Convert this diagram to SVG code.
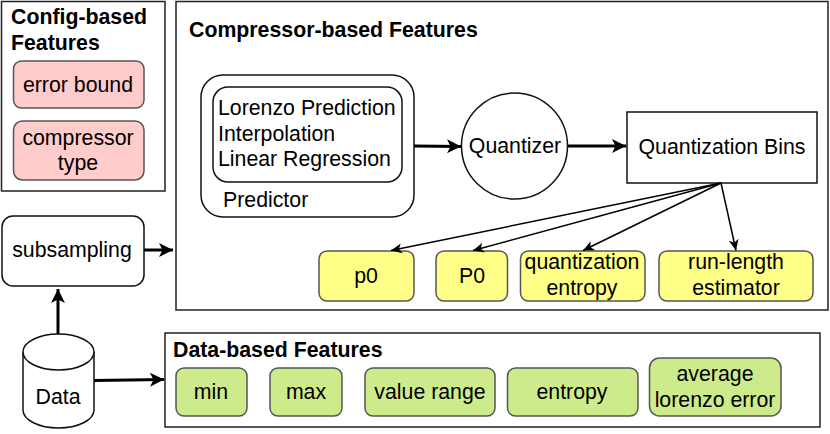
<svg xmlns="http://www.w3.org/2000/svg" width="830" height="434" viewBox="0 0 830 434">
<style>
text{font-family:"Liberation Sans",Arial,sans-serif;font-size:21.3px;fill:#000;text-anchor:middle}
.t{font-weight:bold;text-anchor:start}
.l{text-anchor:start}
.b{fill:#fff;stroke:#222;stroke-width:1.5}
.n{fill:#fff;stroke:#111;stroke-width:1.5}
.r{fill:#ffcccc;stroke:#555;stroke-width:1.5}
.y{fill:#ffff88;stroke:#555;stroke-width:1.5}
.g{fill:#cdeb8b;stroke:#555;stroke-width:1.5}
.c{fill:none;stroke:#000;stroke-width:3}
.d{fill:none;stroke:#000;stroke-width:1.5}
</style>
<defs>
<marker id="a" markerUnits="userSpaceOnUse" markerWidth="16" markerHeight="16" refX="14" refY="7" orient="auto" viewBox="0 0 16 14"><path d="M0 0L14 7L0 14L3.5 7Z" fill="#000"/></marker>
<marker id="s" markerUnits="userSpaceOnUse" markerWidth="12" markerHeight="12" refX="11" refY="5" orient="auto" viewBox="0 0 12 10"><path d="M0 0L11 5L0 10L3 5Z" fill="#000"/></marker>
</defs>
<g id="config">
<rect class="b" x="1.5" y="1.5" width="163.5" height="189.5"/>
<text class="t" x="11" y="24">Config-based</text>
<text class="t" x="11" y="50">Features</text>
<g id="error-bound"><rect class="r" x="13.5" y="61" width="130.5" height="47" rx="8"/><text x="78" y="92">error bound</text></g>
<g id="compressor-type"><rect class="r" x="13.5" y="121" width="130.5" height="59" rx="9"/><text x="78" y="145">compressor</text><text x="78" y="170">type</text></g>
</g>
<g id="compressor">
<rect class="b" x="176" y="1.5" width="652" height="308.5"/>
<text class="t" x="189" y="37">Compressor-based Features</text>
</g>
<g id="predictor">
<rect class="n" x="201" y="75" width="213" height="142" rx="22"/>
<text class="l" x="223" y="207">Predictor</text>
</g>
<g id="methods">
<rect class="n" x="213" y="87" width="189" height="95" rx="15"/>
<text class="l" x="218" y="115">Lorenzo Prediction</text>
<text class="l" x="218" y="141">Interpolation</text>
<text class="l" x="218" y="166">Linear Regression</text>
</g>
<g id="quantizer"><circle class="n" cx="514.500" cy="146" r="53"/><text x="515" y="153">Quantizer</text></g>
<g id="bins"><rect class="n" x="627" y="112" width="190" height="71"/><text x="722" y="154">Quantization Bins</text></g>
<g id="p0"><rect class="y" x="319" y="251" width="95" height="50" rx="8"/><text x="366" y="283">p0</text></g>
<g id="P0"><rect class="y" x="436" y="251" width="71.500" height="50" rx="8"/><text x="472" y="283">P0</text></g>
<g id="quantization-entropy"><rect class="y" x="520.500" y="251" width="124.500" height="50" rx="8"/><text x="582" y="269">quantization</text><text x="582" y="295">entropy</text></g>
<g id="run-length"><rect class="y" x="659" y="251" width="154" height="50" rx="8"/><text x="736" y="269">run-length</text><text x="736" y="295">estimator</text></g>
<g id="subsampling"><rect class="n" x="2" y="216" width="142" height="70" rx="11"/><text x="72" y="257">subsampling</text></g>
<g id="data">
<path class="n" d="M23 352C23 342 39 334 58.500 334S94 342 94 352V410C94 420 78 428 58.500 428S23 420 23 410Z"/>
<path class="n" d="M23 352C23 362 39 370 58.500 370S94 362 94 352" fill="none"/>
<text x="58" y="404">Data</text>
</g>
<g id="data-features">
<rect class="b" x="165" y="333" width="655" height="94"/>
<text class="t" x="173" y="357">Data-based Features</text>
<g id="min"><rect class="g" x="176" y="368" width="71" height="48" rx="8"/><text x="211" y="399">min</text></g>
<g id="max"><rect class="g" x="270" y="368" width="72" height="48" rx="8"/><text x="306" y="399">max</text></g>
<g id="value-range"><rect class="g" x="365" y="368" width="130" height="48" rx="8"/><text x="430" y="399">value range</text></g>
<g id="entropy"><rect class="g" x="507.500" y="368" width="130.500" height="48" rx="8"/><text x="572" y="399">entropy</text></g>
<g id="lorenzo-error"><rect class="g" x="649.500" y="358" width="131.500" height="58" rx="10"/><text x="715" y="381">average</text><text x="715" y="407">lorenzo error</text></g>
</g>
<g id="connectors">
<path class="c" d="M414 146L461 146.500" marker-end="url(#a)"/>
<path class="c" d="M568 146H626" marker-end="url(#a)"/>
<path class="c" d="M144 250H173" marker-end="url(#a)"/>
<path class="c" d="M58 334V289" marker-end="url(#a)"/>
<path class="c" d="M94 380.500L164 379.500" marker-end="url(#a)"/>
<path class="d" d="M721 183L391 250.500" marker-end="url(#s)"/>
<path class="d" d="M721 183L473 250.500" marker-end="url(#s)"/>
<path class="d" d="M721 183L583 250.500" marker-end="url(#s)"/>
<path class="d" d="M721 183L736 250.500" marker-end="url(#s)"/>
</g>
</svg>
